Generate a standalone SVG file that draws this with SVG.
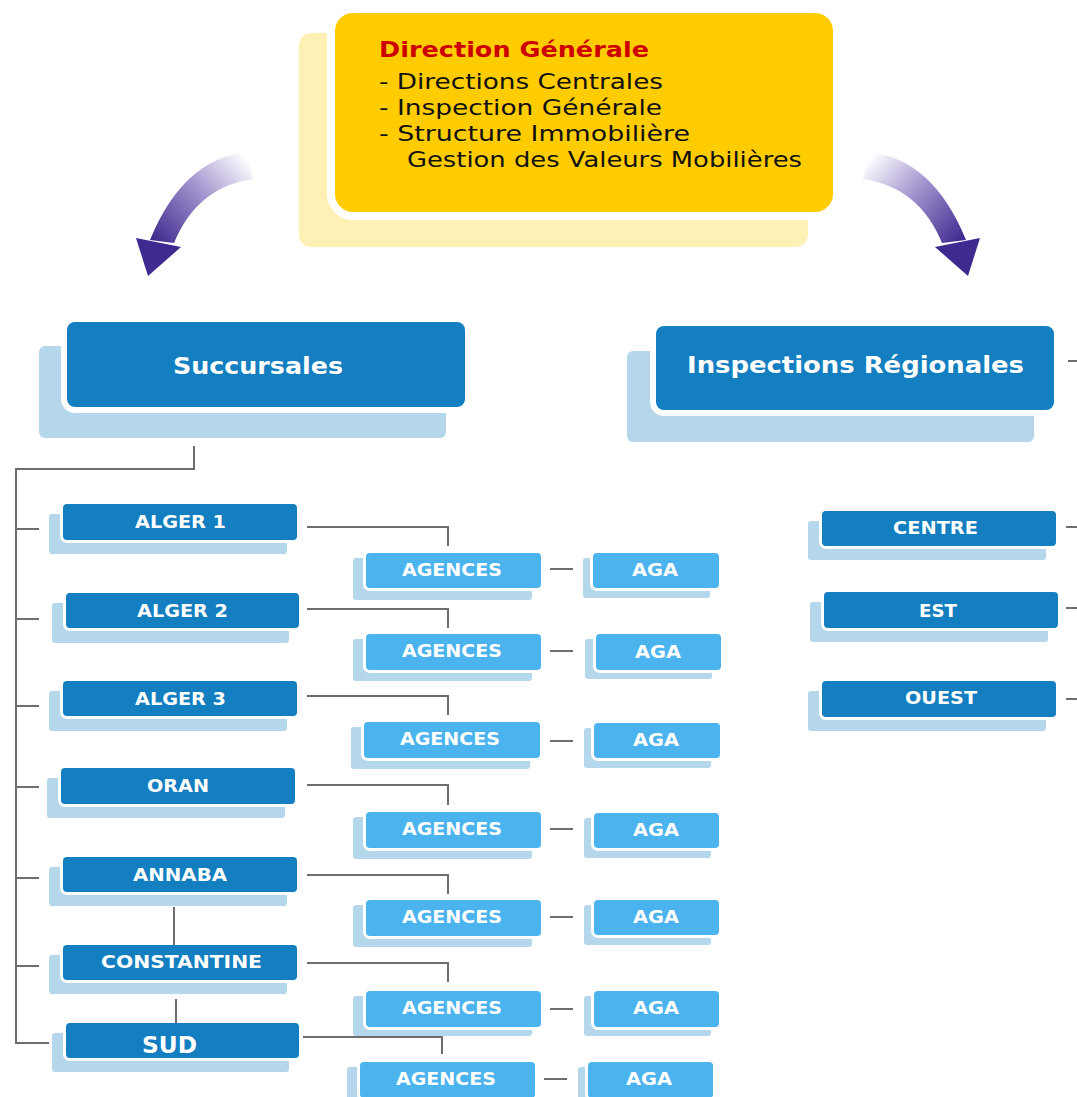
<svg xmlns="http://www.w3.org/2000/svg" width="1077" height="1097" viewBox="0 0 1077 1097">
<defs>
<linearGradient id="arrowGrad" gradientUnits="userSpaceOnUse" x1="250" y1="162" x2="158" y2="245">
<stop offset="0" stop-color="#ffffff"/>
<stop offset="0.45" stop-color="#a595cf"/>
<stop offset="1" stop-color="#3f2a8f"/>
</linearGradient>
</defs>
<style>
.dk{fill:#137ec0;stroke:#ffffff;stroke-width:6;paint-order:stroke}
.lt{fill:#4bb3ee;stroke:#ffffff;stroke-width:6;paint-order:stroke}
.big{fill:#137ec0;stroke:#ffffff;stroke-width:12;paint-order:stroke}
.sh{fill:#b4d7eb}
.lbl{font-family:"DejaVu Sans","Liberation Sans",sans-serif;font-weight:bold;font-size:17px;fill:#ffffff}
.blbl{font-family:"DejaVu Sans","Liberation Sans",sans-serif;font-weight:bold;font-size:23px;fill:#ffffff}
.yt{font-family:"DejaVu Sans","Liberation Sans",sans-serif;font-size:22px;fill:#111111}
.yh{font-family:"DejaVu Sans","Liberation Sans",sans-serif;font-size:22px;font-weight:bold;fill:#cc0000}
.cn{fill:none;stroke:#6e6e6e;stroke-width:2}
</style>
<rect width="1077" height="1097" fill="#ffffff"/>

<g id="arrows">
<g id="arrow-left">
<path d="M247,152 Q183,159 150,240 L174,243 Q197,187 253,179 Z" fill="url(#arrowGrad)"/>
<path d="M136,238 L181,247 L148,276 Z" fill="#3f2a8f"/>
</g>
<g id="arrow-right" transform="translate(1116,0) scale(-1,1)">
<path d="M247,152 Q183,159 150,240 L174,243 Q197,187 253,179 Z" fill="url(#arrowGrad)"/>
<path d="M136,238 L181,247 L148,276 Z" fill="#3f2a8f"/>
</g>
</g>

<g id="direction-generale">
<rect x="299" y="33" width="509" height="214" rx="12" fill="#fff0b5"/>
<rect x="335" y="13" width="498" height="199" rx="18" fill="#ffcc00" stroke="#ffffff" stroke-width="16" paint-order="stroke"/>
<text class="yh" x="379" y="57" textLength="270" lengthAdjust="spacingAndGlyphs">Direction Générale</text>
<text class="yt" x="379" y="89" textLength="284" lengthAdjust="spacingAndGlyphs">- Directions Centrales</text>
<text class="yt" x="379" y="115" textLength="283" lengthAdjust="spacingAndGlyphs">- Inspection Générale</text>
<text class="yt" x="379" y="141" textLength="311" lengthAdjust="spacingAndGlyphs">- Structure Immobilière</text>
<text class="yt" x="407" y="167" textLength="395" lengthAdjust="spacingAndGlyphs">Gestion des Valeurs Mobilières</text>
</g>

<g id="succursales">
<rect class="sh" x="39" y="346" width="407" height="92" rx="6"/>
<rect class="big" x="67" y="322" width="398" height="85" rx="8"/>
<text class="blbl" x="173" y="374" textLength="170" lengthAdjust="spacingAndGlyphs">Succursales</text>
</g>

<g id="inspections-regionales">
<rect class="sh" x="627" y="351" width="407" height="91" rx="6"/>
<rect class="big" x="656" y="326" width="398" height="84" rx="8"/>
<text class="blbl" x="687" y="373" textLength="337" lengthAdjust="spacingAndGlyphs">Inspections Régionales</text>
</g>

<g id="alger1">
<rect class="sh" x="49" y="514" width="238" height="40" rx="3"/>
<rect class="dk" x="63" y="504" width="234" height="36" rx="4"/>
<text class="lbl" x="135" y="528" textLength="91" lengthAdjust="spacingAndGlyphs">ALGER 1</text>
</g>
<g id="alger2">
<rect class="sh" x="52" y="603" width="237" height="40" rx="3"/>
<rect class="dk" x="66" y="593" width="233" height="35" rx="4"/>
<text class="lbl" x="137" y="617" textLength="91" lengthAdjust="spacingAndGlyphs">ALGER 2</text>
</g>
<g id="alger3">
<rect class="sh" x="49" y="691" width="238" height="40" rx="3"/>
<rect class="dk" x="63" y="681" width="234" height="35" rx="4"/>
<text class="lbl" x="135" y="705" textLength="91" lengthAdjust="spacingAndGlyphs">ALGER 3</text>
</g>
<g id="oran">
<rect class="sh" x="47" y="778" width="238" height="40" rx="3"/>
<rect class="dk" x="61" y="768" width="234" height="36" rx="4"/>
<text class="lbl" x="147" y="792" textLength="62" lengthAdjust="spacingAndGlyphs">ORAN</text>
</g>
<g id="annaba">
<rect class="sh" x="49" y="867" width="238" height="39" rx="3"/>
<rect class="dk" x="63" y="857" width="234" height="35" rx="4"/>
<text class="lbl" x="133" y="881" textLength="94" lengthAdjust="spacingAndGlyphs">ANNABA</text>
</g>
<g id="constantine">
<rect class="sh" x="49" y="955" width="238" height="39" rx="3"/>
<rect class="dk" x="63" y="945" width="234" height="35" rx="4"/>
<text class="lbl" x="101" y="968" textLength="161" lengthAdjust="spacingAndGlyphs">CONSTANTINE</text>
</g>
<g id="sud">
<rect class="sh" x="52" y="1033" width="237" height="39" rx="3"/>
<rect class="dk" x="66" y="1023" width="233" height="35" rx="4"/>
<text class="blbl" x="142" y="1053" textLength="55" lengthAdjust="spacingAndGlyphs">SUD</text>
</g>

<g id="agences1">
<rect class="sh" x="353" y="558" width="179" height="42" rx="3"/>
<rect class="lt" x="366" y="553" width="175" height="35" rx="4"/>
<text class="lbl" x="402" y="576" textLength="100" lengthAdjust="spacingAndGlyphs">AGENCES</text>
</g>
<g id="aga1">
<rect class="sh" x="583" y="558" width="127" height="40" rx="3"/>
<rect class="lt" x="593" y="553" width="126" height="35" rx="4"/>
<text class="lbl" x="632" y="576" textLength="46" lengthAdjust="spacingAndGlyphs">AGA</text>
</g>
<g id="agences2">
<rect class="sh" x="353" y="639" width="179" height="42" rx="3"/>
<rect class="lt" x="366" y="634" width="175" height="36" rx="4"/>
<text class="lbl" x="402" y="657" textLength="100" lengthAdjust="spacingAndGlyphs">AGENCES</text>
</g>
<g id="aga2">
<rect class="sh" x="585" y="639" width="127" height="40" rx="3"/>
<rect class="lt" x="596" y="634" width="125" height="36" rx="4"/>
<text class="lbl" x="635" y="658" textLength="46" lengthAdjust="spacingAndGlyphs">AGA</text>
</g>
<g id="agences3">
<rect class="sh" x="351" y="727" width="179" height="42" rx="3"/>
<rect class="lt" x="364" y="722" width="176" height="36" rx="4"/>
<text class="lbl" x="400" y="745" textLength="100" lengthAdjust="spacingAndGlyphs">AGENCES</text>
</g>
<g id="aga3">
<rect class="sh" x="584" y="728" width="127" height="40" rx="3"/>
<rect class="lt" x="594" y="723" width="126" height="35" rx="4"/>
<text class="lbl" x="633" y="746" textLength="46" lengthAdjust="spacingAndGlyphs">AGA</text>
</g>
<g id="agences4">
<rect class="sh" x="353" y="817" width="179" height="42" rx="3"/>
<rect class="lt" x="366" y="812" width="175" height="36" rx="4"/>
<text class="lbl" x="402" y="835" textLength="100" lengthAdjust="spacingAndGlyphs">AGENCES</text>
</g>
<g id="aga4">
<rect class="sh" x="584" y="818" width="127" height="40" rx="3"/>
<rect class="lt" x="594" y="813" width="125" height="35" rx="4"/>
<text class="lbl" x="633" y="836" textLength="46" lengthAdjust="spacingAndGlyphs">AGA</text>
</g>
<g id="agences5">
<rect class="sh" x="353" y="905" width="179" height="42" rx="3"/>
<rect class="lt" x="366" y="900" width="175" height="36" rx="4"/>
<text class="lbl" x="402" y="923" textLength="100" lengthAdjust="spacingAndGlyphs">AGENCES</text>
</g>
<g id="aga5">
<rect class="sh" x="584" y="905" width="127" height="40" rx="3"/>
<rect class="lt" x="594" y="900" width="125" height="35" rx="4"/>
<text class="lbl" x="633" y="923" textLength="46" lengthAdjust="spacingAndGlyphs">AGA</text>
</g>
<g id="agences6">
<rect class="sh" x="353" y="996" width="179" height="40" rx="3"/>
<rect class="lt" x="366" y="991" width="175" height="36" rx="4"/>
<text class="lbl" x="402" y="1014" textLength="100" lengthAdjust="spacingAndGlyphs">AGENCES</text>
</g>
<g id="aga6">
<rect class="sh" x="584" y="996" width="127" height="40" rx="3"/>
<rect class="lt" x="594" y="991" width="125" height="36" rx="4"/>
<text class="lbl" x="633" y="1014" textLength="46" lengthAdjust="spacingAndGlyphs">AGA</text>
</g>
<g id="agences7">
<rect class="sh" x="347" y="1067" width="179" height="42" rx="3"/>
<rect class="lt" x="360" y="1062" width="175" height="36" rx="4"/>
<text class="lbl" x="396" y="1085" textLength="100" lengthAdjust="spacingAndGlyphs">AGENCES</text>
</g>
<g id="aga7">
<rect class="sh" x="578" y="1067" width="127" height="40" rx="3"/>
<rect class="lt" x="588" y="1062" width="125" height="36" rx="4"/>
<text class="lbl" x="626" y="1085" textLength="46" lengthAdjust="spacingAndGlyphs">AGA</text>
</g>

<g id="centre">
<rect class="sh" x="808" y="521" width="238" height="39" rx="3"/>
<rect class="dk" x="822" y="511" width="234" height="35" rx="4"/>
<text class="lbl" x="893" y="534" textLength="85" lengthAdjust="spacingAndGlyphs">CENTRE</text>
</g>
<g id="est">
<rect class="sh" x="810" y="602" width="238" height="40" rx="3"/>
<rect class="dk" x="824" y="592" width="234" height="36" rx="4"/>
<text class="lbl" x="919" y="617" textLength="38" lengthAdjust="spacingAndGlyphs">EST</text>
</g>
<g id="ouest">
<rect class="sh" x="808" y="691" width="238" height="40" rx="3"/>
<rect class="dk" x="822" y="681" width="234" height="36" rx="4"/>
<text class="lbl" x="905" y="704" textLength="72" lengthAdjust="spacingAndGlyphs">OUEST</text>
</g>

<g id="connectors">
<path class="cn" d="M194,446 V469 H16 V1043 H49"/>
<path class="cn" d="M16,529 H39 M16,619 H39 M16,706 H39 M16,787 H39 M16,878 H39 M16,966 H39"/>
<path class="cn" d="M174,907 V945 M176,999 V1023"/>
<path class="cn" d="M307,527 H448 V546 M307,609 H448 V628 M307,696 H448 V715 M307,785 H448 V805 M307,875 H448 V894 M307,963 H448 V982 M303,1037 H442 V1054"/>
<path class="cn" d="M550,569 H573 M550,651 H573 M550,741 H573 M550,829 H573 M550,917 H573 M550,1009 H573 M544,1079 H567"/>
<path class="cn" d="M1068,361 H1077 M1066,527 H1077 M1066,608 H1077 M1066,699 H1077"/>
</g>
</svg>
